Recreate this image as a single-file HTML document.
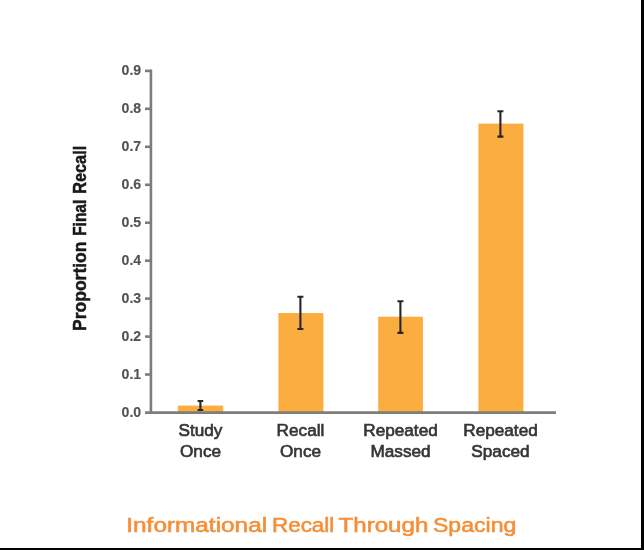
<!DOCTYPE html>
<html><head><meta charset="utf-8">
<style>
html,body{margin:0;padding:0;background:#fff;}
body{width:644px;height:550px;position:relative;overflow:hidden;}
svg{position:absolute;left:0;top:0;}
text{font-family:"Liberation Sans",sans-serif;}
</style></head><body>
<svg width="644" height="550" viewBox="0 0 644 550">
<defs><filter id="bl" x="-5%" y="-5%" width="110%" height="110%"><feGaussianBlur stdDeviation="0.6"/></filter></defs>
<rect x="0" y="0" width="644" height="550" fill="#fff"/>
<g filter="url(#bl)">
<!-- bars -->
<g fill="#FBAD40">
<rect x="177.9" y="405.6" width="45.3" height="6.9"/>
<rect x="278.4" y="313" width="45" height="99.5"/>
<rect x="378.2" y="316.7" width="44.7" height="95.8"/>
<rect x="478.4" y="123.6" width="45" height="288.9"/>
</g>
<!-- axes -->
<g stroke="#7d7d7d" stroke-width="2.6" fill="none">
<line x1="150.9" y1="69.5" x2="150.9" y2="413.5"/>
<line x1="145" y1="412.6" x2="556" y2="412.6"/>
<line x1="145" y1="70.9" x2="151" y2="70.9"/>
<line x1="145" y1="108.8" x2="151" y2="108.8"/>
<line x1="145" y1="146.8" x2="151" y2="146.8"/>
<line x1="145" y1="184.8" x2="151" y2="184.8"/>
<line x1="145" y1="222.7" x2="151" y2="222.7"/>
<line x1="145" y1="260.7" x2="151" y2="260.7"/>
<line x1="145" y1="298.6" x2="151" y2="298.6"/>
<line x1="145" y1="336.6" x2="151" y2="336.6"/>
<line x1="145" y1="374.5" x2="151" y2="374.5"/>
</g>
<!-- error bars -->
<g stroke="#262626" stroke-width="2.1" fill="none">
<path d="M200.4 401V410M197.6 401H203.2M197.6 410H203.2"/>
<path d="M300.4 296.8V329M297.4 296.8H303.4M297.4 329H303.4"/>
<path d="M400.4 301.2V332.9M397.4 301.2H403.4M397.4 332.9H403.4"/>
<path d="M500.4 111.2V136.6M497.4 111.2H503.4M497.4 136.6H503.4"/>
</g>
<!-- y tick labels -->
<g fill="#525252" stroke="#525252" stroke-width="0.15" font-size="15.5" font-weight="bold" text-anchor="end">
<text x="141.2" y="75.3" textLength="19.6" lengthAdjust="spacingAndGlyphs">0.9</text>
<text x="141.2" y="113.2" textLength="19.6" lengthAdjust="spacingAndGlyphs">0.8</text>
<text x="141.2" y="151.2" textLength="19.6" lengthAdjust="spacingAndGlyphs">0.7</text>
<text x="141.2" y="189.2" textLength="19.6" lengthAdjust="spacingAndGlyphs">0.6</text>
<text x="141.2" y="227.1" textLength="19.6" lengthAdjust="spacingAndGlyphs">0.5</text>
<text x="141.2" y="265.0" textLength="19.6" lengthAdjust="spacingAndGlyphs">0.4</text>
<text x="141.2" y="303.0" textLength="19.6" lengthAdjust="spacingAndGlyphs">0.3</text>
<text x="141.2" y="341.0" textLength="19.6" lengthAdjust="spacingAndGlyphs">0.2</text>
<text x="141.2" y="378.8" textLength="19.6" lengthAdjust="spacingAndGlyphs">0.1</text>
<text x="141.2" y="417.0" textLength="19.6" lengthAdjust="spacingAndGlyphs">0.0</text>
</g>
<!-- x labels -->
<g fill="#353535" stroke="#353535" stroke-width="0.65" font-size="17.2" text-anchor="middle">
<text x="200.5" y="436.2">Study</text>
<text x="200.5" y="457.1">Once</text>
<text x="300.5" y="436.2">Recall</text>
<text x="300.5" y="457.1">Once</text>
<text x="400.5" y="436.2">Repeated</text>
<text x="400.5" y="457.1">Massed</text>
<text x="500.5" y="436.2">Repeated</text>
<text x="500.5" y="457.1">Spaced</text>
</g>
<!-- y title -->
<g font-size="17.6" font-weight="bold" fill="#1a1a1a" stroke="#1a1a1a" stroke-width="0.5">
<text transform="translate(86.3,331) rotate(-90)" textLength="89.5" lengthAdjust="spacingAndGlyphs">Proportion</text>
<text transform="translate(86.3,235.8) rotate(-90)" textLength="36" lengthAdjust="spacingAndGlyphs">Final</text>
<text transform="translate(86.3,193.8) rotate(-90)" textLength="48" lengthAdjust="spacingAndGlyphs">Recall</text>
</g>
</g>
<!-- title -->
<g font-size="19.4" fill="#F48F38" stroke="#F48F38" stroke-width="0.55" lengthAdjust="spacingAndGlyphs">
<text x="126.3" y="531.8" textLength="140.8" lengthAdjust="spacingAndGlyphs">Informational</text>
<text x="272" y="531.8" textLength="62.3" lengthAdjust="spacingAndGlyphs">Recall</text>
<text x="338.5" y="531.8" textLength="89.8" lengthAdjust="spacingAndGlyphs">Through</text>
<text x="433" y="531.8" textLength="83.3" lengthAdjust="spacingAndGlyphs">Spacing</text>
</g>
<!-- borders -->
<rect x="641" y="0" width="3" height="550" fill="#000"/>
<rect x="0" y="548" width="644" height="2" fill="#000"/>
</svg>
</body></html>
